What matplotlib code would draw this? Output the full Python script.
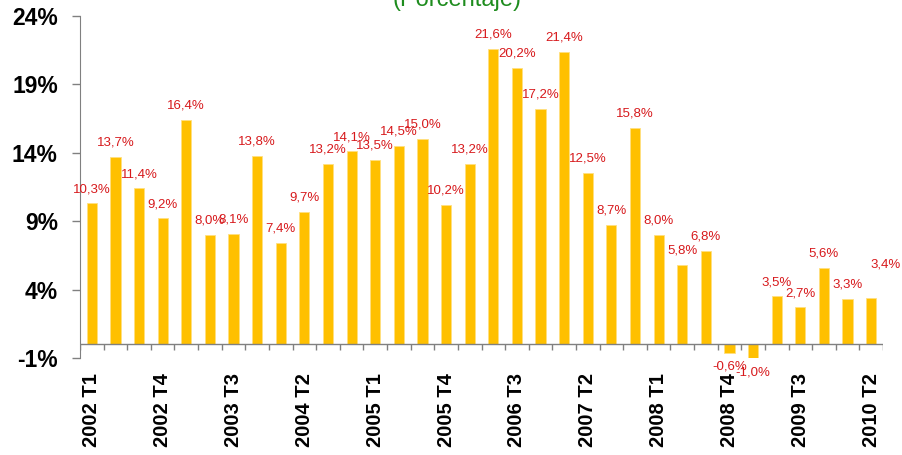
import matplotlib
matplotlib.use("Agg")
import matplotlib.pyplot as plt
import numpy as np

quarters = [f"{y} T{q}" for y in range(2002, 2011) for q in range(1, 5)][:34]
values = [10.3, 13.7, 11.4, 9.2, 16.4, 8.0, 8.1, 13.8, 7.4, 9.7,
          13.2, 14.1, 13.5, 14.5, 15.0, 10.2, 13.2, 21.6, 20.2, 17.2,
          21.4, 12.5, 8.7, 15.8, 8.0, 5.8, 6.8, -0.6, -1.0, 3.5,
          2.7, 5.6, 3.3, 3.4]
yticks = [-1, 4, 9, 14, 19, 24]
title = "(Porcentaje)"

plt.rcParams['font.family'] = ['Liberation Sans', 'DejaVu Sans']

W, H = 902, 455
fig = plt.figure(figsize=(W / 100, H / 100), dpi=100)
left, right, top, bottom = 80, 883, 16, 358
ax = fig.add_axes([left / W, (H - bottom) / H, (right - left) / W, (bottom - top) / H])

x = np.arange(len(values))
ax.bar(x, values, width=0.43, color='#FFC000', edgecolor='#FFE080', linewidth=0.6, zorder=2)

ax.set_xlim(-0.5, len(values) - 0.5)
ax.set_ylim(-1, 24)
ax.set_yticks(yticks)
ax.set_yticklabels([f"{v}%" for v in yticks], fontsize=16.5, fontweight='bold')

ax.set_xticks(x[::3])
ax.set_xticklabels(quarters[::3], rotation=90, fontsize=14.5, fontweight='bold', va='top')
ax.tick_params(axis='x', length=0, pad=11)
ax.tick_params(axis='y', length=6, width=1, color='#808080', pad=10)

for s in ['top', 'right', 'bottom']:
    ax.spines[s].set_visible(False)
ax.spines['left'].set_color('#808080')
ax.axhline(0, color='#808080', linewidth=1, zorder=3)
ax.vlines(np.arange(len(values) + 1) - 0.5, -0.45, 0, color='#808080', linewidth=1, zorder=3)

red = '#D7191C'
for i, v in enumerate(values):
    lab = f"{v:.1f}%".replace('.', ',')
    if i == len(values) - 1:
        ax.annotate(lab, (i, v), xytext=(10, 20), textcoords='offset points',
                    ha='center', va='bottom', color=red, fontsize=9.5)
    elif v >= 0:
        ax.annotate(lab, (i, v), xytext=(0, 6), textcoords='offset points',
                    ha='center', va='bottom', color=red, fontsize=9.5)
    else:
        ax.annotate(lab, (i, v), xytext=(0, -6), textcoords='offset points',
                    ha='center', va='top', color=red, fontsize=9.5)

fig.text(0.507, 1 - 11 / H, title, ha='center', va='bottom', color='#1E8C1E', fontsize=17)

fig.savefig('out.png', dpi=100)
